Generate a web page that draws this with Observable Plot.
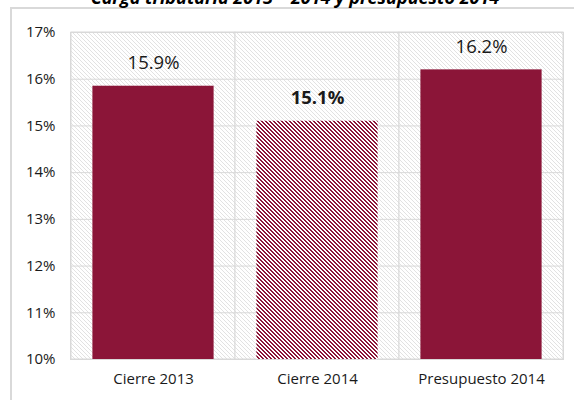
<!DOCTYPE html>
<html>
<head>
<meta charset="utf-8">
<script src="https://cdn.jsdelivr.net/npm/d3@7"></script>
<script src="https://cdn.jsdelivr.net/npm/@observablehq/plot@0.6"></script>
<style>
  html, body { margin: 0; padding: 0; background: #fff; overflow: hidden; }
  #wrap { position: relative; width: 574px; height: 400px; overflow: hidden; }
  #title { position: absolute; left: 0; width: 590px; top: -12px; text-align: center;
    font-family: "Open Sans", sans-serif; font-weight: bold; font-style: italic;
    font-size: 18px; line-height: 18px; color: #000; white-space: nowrap; }
  #box { position: absolute; left: 10px; top: 7px; width: 700px; height: 500px;
    border-left: 2px solid #d9d9d9; border-top: 2px solid #d9d9d9; }
  #chart { position: absolute; left: 0; top: 0; }
</style>
</head>
<body>
<div id="wrap">
  <div id="box"></div>
  <div id="title">Carga tributaria 2013 – 2014 y presupuesto 2014</div>
  <div id="chart"></div>
</div>
<script>
const categories = ["Cierre 2013", "Cierre 2014", "Presupuesto 2014"];
const values = [15.85, 15.1, 16.2];
const valueLabels = ["15.9%", "15.1%", "16.2%"];
const yTicks = [10, 11, 12, 13, 14, 15, 16, 17];

const barColor = "#8b1538";
const rows = categories.map((c, i) => ({category: c, value: values[i], label: valueLabels[i], hatched: i === 1}));

const svg = Plot.plot({
  width: 574,
  height: 400,
  marginLeft: 70,
  marginRight: 11,
  marginTop: 32,
  marginBottom: 41,
  style: {fontFamily: "Open Sans, sans-serif", background: "transparent", color: "#1a1a1a"},
  x: {type: "band", domain: categories, padding: 0, label: null},
  y: {domain: [10, 17], label: null},
  marks: [
    Plot.barY(categories, {x: d => d, y1: 10, y2: 17, fill: "url(#bgHatch)", stroke: "#d9d9d9", strokeWidth: 1}),
    Plot.gridY(yTicks, {stroke: "#d9d9d9", strokeOpacity: 1, strokeWidth: 1}),
    Plot.frame({stroke: "#d9d9d9", strokeWidth: 1}),
    Plot.barY(rows, {x: "category", y1: 10, y2: "value", fill: d => d.hatched ? "url(#barHatch)" : barColor, insetLeft: 21.4, insetRight: 21.4}),
    Plot.text(rows.filter(d => !d.hatched), {x: "category", y: "value", text: "label", dy: -23, fontSize: 18.5, fill: "#1a1a1a"}),
    Plot.text(rows.filter(d => d.hatched), {x: "category", y: "value", text: "label", dy: -23, fontSize: 18.5, fill: "#1a1a1a", fontWeight: "bold"}),
    Plot.axisY(yTicks, {tickSize: 0, tickPadding: 15, tickFormat: d => d + "%", fontSize: 15, label: null}),
    Plot.axisX({tickSize: 0, tickPadding: 14, fontSize: 15, label: null})
  ]
});

const defs = d3.select(svg).insert("defs", ":first-child");
// Pixel-aligned downward diagonal patterns (4px period)
const bg = defs.append("pattern").attr("id", "bgHatch").attr("patternUnits", "userSpaceOnUse")
  .attr("width", 4).attr("height", 4);
bg.append("rect").attr("width", 4).attr("height", 4).attr("fill", "#ffffff");
for (let r = 0; r < 4; r++) {
  bg.append("rect").attr("x", r).attr("y", r).attr("width", 1).attr("height", 1)
    .attr("fill", "#e2e2e2").attr("shape-rendering", "crispEdges");
}
const bh = defs.append("pattern").attr("id", "barHatch").attr("patternUnits", "userSpaceOnUse")
  .attr("width", 4).attr("height", 4);
bh.append("rect").attr("width", 4).attr("height", 4).attr("fill", "#ffffff");
for (let r = 0; r < 4; r++) {
  for (let k = 0; k < 2; k++) {
    bh.append("rect").attr("x", (r + k) % 4).attr("y", r).attr("width", 1).attr("height", 1)
      .attr("fill", barColor).attr("shape-rendering", "crispEdges");
  }
}

document.getElementById("chart").appendChild(svg);
</script>
</body>
</html>
